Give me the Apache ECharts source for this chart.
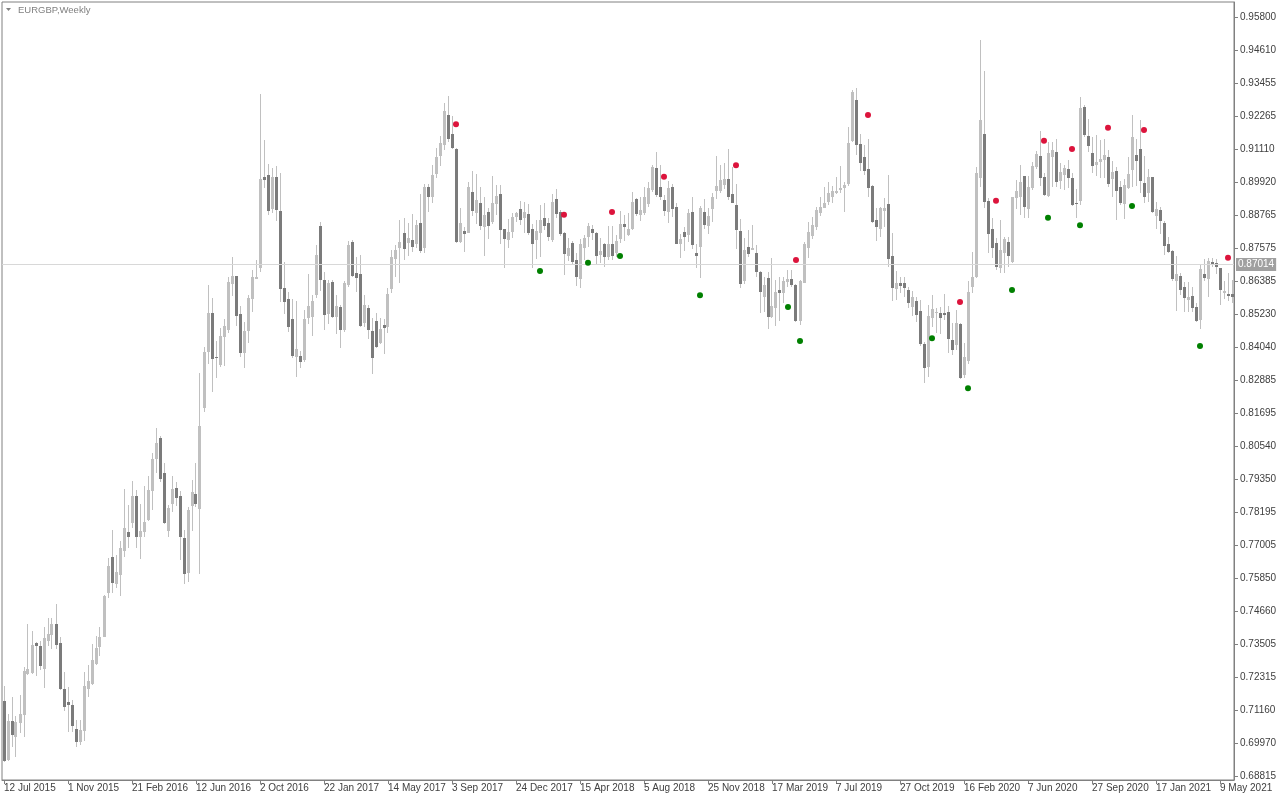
<!DOCTYPE html>
<html><head><meta charset="utf-8">
<script src="https://cdn.jsdelivr.net/npm/echarts@6/dist/echarts.min.js"></script>
<style>html,body{margin:0;padding:0;background:#fff}#c{width:1280px;height:800px}</style>
</head><body><div id="c"></div><script>
const chartTitle = 'EURGBP,Weekly';
const firstWeekUTC = Date.UTC(2015, 6, 12);
const xTickLabels = ['12 Jul 2015','1 Nov 2015','21 Feb 2016','12 Jun 2016','2 Oct 2016','22 Jan 2017','14 May 2017','3 Sep 2017','24 Dec 2017','15 Apr 2018','5 Aug 2018','25 Nov 2018','17 Mar 2019','7 Jul 2019','27 Oct 2019','16 Feb 2020','7 Jun 2020','27 Sep 2020','17 Jan 2021','9 May 2021'];
const yTickLabels = ['0.68815','0.69970','0.71160','0.72315','0.73505','0.74660','0.75850','0.77005','0.78195','0.79350','0.80540','0.81695','0.82885','0.84040','0.85230','0.86385','0.87575','0.88765','0.89920','0.91110','0.92265','0.93455','0.94610','0.95800'];
const lastPrice = 0.87014;

const opens = [
.7148,.6938,.7077,.7021,.7071,.7099,.7244,.7249,.7355,.7343,
.7263,.7362,.7384,.7423,.7355,.7191,.7144,.7134,.7048,.7002,
.7042,.7192,.7208,.7279,.7341,.7377,.7532,.7661,.7563,.7596,
.7681,.7750,.7782,.7877,.7730,.7750,.7791,.7896,.8008,.8084,
.7960,.7753,.7848,.7906,.7877,.7728,.7602,.7842,.7883,.7831,
.8191,.8390,.8528,.8371,.8342,.8443,.8467,.8630,.8659,.8524,
.8384,.8463,.8576,.8648,.8686,.9010,.9020,.8897,.9011,.8890,
.8615,.8576,.8508,.8372,.8374,.8360,.8511,.8514,.8591,.8837,
.8645,.8523,.8639,.8514,.8548,.8467,.8627,.8779,.8671,.8666,
.8493,.8544,.8463,.8499,.8420,.8485,.8479,.8612,.8719,.8760,
.8811,.8777,.8787,.8773,.8846,.8760,.8974,.8939,.9021,.9087,
.9125,.9231,.9164,.9110,.8781,.8819,.8813,.8959,.8882,.8919,
.8834,.8887,.8852,.8915,.8950,.8826,.8787,.8816,.8870,.8897,
.8866,.8879,.8826,.8787,.8813,.8866,.8848,.8787,.8933,.8887,
.8811,.8730,.8775,.8716,.8648,.8760,.8799,.8826,.8811,.8734,
.8773,.8725,.8773,.8740,.8789,.8844,.8805,.8828,.8933,.8876,
.8882,.8915,.8965,.9042,.8976,.8929,.8888,.8974,.8905,.8773,
.8814,.8805,.8887,.8742,.8763,.8887,.8837,.8897,.8962,.8962,
.8982,.9003,.8950,.8912,.8820,.8642,.8761,.8751,.8740,.8672,
.8586,.8651,.8514,.8544,.8609,.8599,.8639,.8648,.8627,.8500,
.8635,.8757,.8801,.8834,.8884,.8902,.8923,.8941,.8956,.8965,
.8971,.8986,.9140,.9285,.9127,.9083,.9038,.8979,.8858,.8826,
.8890,.8915,.8730,.8613,.8636,.8636,.8609,.8550,.8570,.8534,
.8417,.8336,.8511,.8528,.8528,.8528,.8532,.8431,.8414,.8488,
.8307,.8358,.8619,.8656,.9006,.9164,.8925,.8826,.8775,.8686,
.8742,.8781,.8710,.8935,.8941,.9014,.8896,.8973,.9047,.9085,
.9010,.8943,.9083,.9100,.8998,.9020,.9039,.9008,.8919,.8925,
.9261,.9158,.9097,.9053,.9065,.9071,.9083,.9003,.9033,.8976,
.8915,.8973,.9036,.9089,.9111,.8989,.8955,.9010,.8872,.8894,
.8848,.8773,.8749,.8641,.8659,.8621,.8574,.8588,.8550,.8502,
.8666,.8648,.8710,.8707,.8686,.8600,.8595,.8595];

const highs = [
.7201,.7102,.7162,.7095,.7169,.7269,.7422,.7397,.7359,.7362,
.7412,.7443,.7442,.7493,.7374,.7251,.7197,.7152,.7080,.7080,
.7251,.7276,.7351,.7379,.7410,.7525,.7656,.7756,.7667,.7717,
.7901,.7845,.7930,.7898,.7848,.7912,.7948,.8029,.8120,.8090,
.7995,.7845,.7948,.7928,.7896,.7756,.7837,.7934,.7995,.8315,
.8407,.8627,.8580,.8429,.8476,.8505,.8656,.8727,.8660,.8553,
.8496,.8591,.8680,.8716,.9305,.9142,.9057,.9042,.9050,.9024,
.8708,.8603,.8577,.8570,.8393,.8538,.8665,.8591,.8769,.8852,
.8674,.8645,.8645,.8591,.8556,.8642,.8784,.8787,.8727,.8734,
.8591,.8556,.8511,.8528,.8509,.8506,.8615,.8752,.8769,.8858,
.8864,.8846,.8879,.8860,.8949,.8988,.8986,.9053,.9116,.9157,
.9274,.9299,.9228,.9114,.8900,.8834,.8994,.9033,.9021,.8974,
.8939,.8900,.9014,.8982,.8982,.8828,.8861,.8884,.8887,.8925,
.8923,.8915,.8844,.8860,.8911,.8917,.8864,.8949,.8968,.8894,
.8816,.8793,.8784,.8740,.8789,.8805,.8846,.8840,.8816,.8796,
.8777,.8837,.8837,.8805,.8890,.8876,.8882,.8959,.8935,.8941,
.8974,.8994,.9053,.9101,.9053,.8947,.8998,.8986,.8917,.8808,
.8832,.8897,.8941,.8773,.8908,.8932,.8900,.8955,.9087,.9053,
.9060,.9109,.9047,.8986,.8862,.8793,.8822,.8840,.8769,.8677,
.8654,.8674,.8722,.8645,.8656,.8654,.8680,.8680,.8629,.8645,
.8781,.8852,.8870,.8905,.8941,.8974,.8994,.8979,.9012,.9050,
.8994,.9190,.9320,.9326,.9163,.9125,.9148,.8982,.8900,.8905,
.8935,.9018,.8811,.8677,.8654,.8656,.8621,.8607,.8585,.8574,
.8425,.8556,.8591,.8544,.8548,.8595,.8552,.8491,.8538,.8493,
.8420,.8642,.8745,.9047,.9498,.9389,.8935,.8864,.8793,.8860,
.8799,.8799,.8941,.9000,.9053,.9014,.9014,.9065,.9103,.9174,
.9026,.9136,.9136,.9148,.9060,.9053,.9071,.9024,.8967,.9294,
.9267,.9219,.9152,.9160,.9142,.9148,.9107,.9069,.9045,.8998,
.9003,.9083,.9231,.9148,.9214,.9086,.9038,.9012,.8923,.8905,
.8855,.8799,.8751,.8731,.8671,.8639,.8639,.8621,.8562,.8702,
.8719,.8722,.8722,.8719,.8686,.8642,.8671,.8645];

const lows = [
.6931,.6936,.6984,.6950,.7034,.7021,.7240,.7244,.7238,.7258,
.7193,.7343,.7332,.7332,.7187,.7113,.7039,.7039,.6983,.6991,
.7006,.7163,.7204,.7276,.7308,.7374,.7514,.7531,.7549,.7522,
.7661,.7693,.7764,.7691,.7652,.7730,.7789,.7827,.7957,.7925,
.7777,.7732,.7821,.7841,.7649,.7563,.7570,.7752,.7839,.7598,
.8176,.8348,.8248,.8297,.8336,.8339,.8456,.8589,.8482,.8372,
.8331,.8420,.8532,.8648,.8674,.8971,.8876,.8882,.8854,.8567,
.8523,.8459,.8368,.8301,.8331,.8352,.8487,.8447,.8580,.8606,
.8467,.8487,.8509,.8453,.8402,.8461,.8621,.8654,.8603,.8479,
.8479,.8434,.8310,.8402,.8417,.8382,.8455,.8600,.8654,.8635,
.8716,.8731,.8745,.8757,.8742,.8740,.8888,.8919,.9006,.9050,
.9107,.9136,.9109,.8775,.8777,.8745,.8811,.8872,.8844,.8822,
.8731,.8789,.8844,.8876,.8773,.8688,.8757,.8796,.8852,.8840,
.8811,.8805,.8686,.8718,.8727,.8822,.8784,.8781,.8864,.8801,
.8662,.8713,.8698,.8623,.8617,.8716,.8763,.8787,.8698,.8704,
.8692,.8716,.8716,.8725,.8777,.8784,.8801,.8822,.8872,.8855,
.8876,.8903,.8959,.8941,.8929,.8872,.8846,.8870,.8773,.8722,
.8749,.8781,.8754,.8688,.8653,.8825,.8808,.8850,.8932,.8955,
.8967,.8929,.8917,.8754,.8615,.8630,.8726,.8751,.8657,.8529,
.8532,.8470,.8509,.8481,.8500,.8564,.8619,.8621,.8496,.8485,
.8633,.8722,.8789,.8822,.8872,.8900,.8911,.8919,.8950,.8953,
.8887,.8979,.9135,.9089,.9033,.9018,.8941,.8849,.8784,.8799,
.8834,.8692,.8571,.8574,.8597,.8583,.8544,.8517,.8496,.8410,
.8277,.8301,.8479,.8455,.8453,.8502,.8384,.8378,.8396,.8292,
.8295,.8348,.8597,.8651,.8976,.8900,.8740,.8722,.8680,.8671,
.8669,.8690,.8704,.8896,.8876,.8864,.8864,.8965,.9038,.8979,
.8943,.8941,.8974,.8976,.8967,.8965,.8971,.8908,.8864,.8911,
.9154,.9101,.9024,.9014,.9006,.9006,.8976,.8941,.8858,.8911,
.8861,.8967,.8976,.8979,.8953,.8917,.8923,.8882,.8828,.8808,
.8734,.8740,.8642,.8536,.8591,.8532,.8532,.8532,.8496,.8469,
.8641,.8585,.8692,.8668,.8556,.8576,.8571,.8562];

const closes = [
.6936,.7077,.7027,.7073,.7102,.7256,.7262,.7347,.7344,.7272,
.7372,.7386,.7423,.7347,.7192,.7127,.7134,.7059,.7002,.7045,
.7201,.7220,.7294,.7336,.7375,.7521,.7628,.7566,.7608,.7693,
.7764,.7732,.7877,.7732,.7752,.7785,.7898,.8008,.8066,.7937,
.7782,.7835,.7902,.7871,.7730,.7598,.7827,.7890,.7847,.8126,
.8390,.8528,.8363,.8369,.8446,.8481,.8639,.8659,.8518,.8386,
.8463,.8580,.8656,.8656,.9004,.9001,.8891,.9011,.8894,.8613,
.8567,.8479,.8375,.8398,.8352,.8506,.8552,.8570,.8734,.8645,
.8520,.8635,.8514,.8552,.8467,.8635,.8769,.8659,.8653,.8481,
.8556,.8467,.8368,.8407,.8470,.8475,.8595,.8726,.8752,.8779,
.8755,.8796,.8763,.8840,.8749,.8974,.8941,.9018,.9083,.9133,
.9245,.9146,.9115,.8781,.8846,.8808,.8974,.8890,.8929,.8837,
.8876,.8837,.8917,.8943,.8822,.8790,.8814,.8870,.8882,.8858,
.8887,.8813,.8773,.8820,.8858,.8837,.8799,.8923,.8879,.8808,
.8737,.8757,.8710,.8654,.8773,.8793,.8837,.8813,.8730,.8748,
.8725,.8773,.8730,.8784,.8844,.8834,.8826,.8923,.8879,.8894,
.8941,.8973,.9047,.8947,.8939,.8890,.8971,.8897,.8773,.8790,
.8799,.8884,.8769,.8730,.8900,.8840,.8872,.8939,.8979,.9000,
.9003,.8941,.8920,.8822,.8630,.8751,.8737,.8760,.8674,.8603,
.8627,.8514,.8552,.8603,.8599,.8641,.8648,.8627,.8500,.8641,
.8772,.8816,.8840,.8894,.8905,.8919,.8955,.8961,.8961,.8973,
.8982,.9131,.9312,.9125,.9062,.9033,.8971,.8852,.8834,.8900,
.8902,.8719,.8617,.8633,.8623,.8617,.8564,.8583,.8520,.8416,
.8333,.8517,.8542,.8531,.8511,.8520,.8434,.8396,.8491,.8297,
.8372,.8603,.8654,.9027,.9213,.8923,.8807,.8757,.8692,.8751,
.8790,.8731,.8941,.8961,.8994,.8905,.8974,.9050,.9093,.9006,
.8947,.9095,.9107,.8994,.9030,.9044,.9006,.8911,.8915,.9255,
.9160,.9121,.9050,.9065,.9075,.9089,.8985,.9030,.8961,.8917,
.8982,.9021,.9154,.9068,.8998,.8941,.9010,.8888,.8896,.8855,
.8765,.8745,.8648,.8666,.8609,.8582,.8585,.8546,.8500,.8684,
.8651,.8712,.8698,.8692,.8609,.8606,.8589,.8585];

const redDotIndex = [113,140,152,165,183,198,216,239,248,260,267,276,285,306];
const redDotPrice = [.9199,.8877,.8887,.9012,.9053,.8716,.9232,.8567,.8927,.9140,.9111,.9186,.9178,.8724];
const greenDotIndex = [134,146,154,174,196,199,232,241,252,261,269,282,299];
const greenDotPrice = [.8677,.8706,.8730,.8591,.8549,.8428,.8438,.8260,.8609,.8866,.8840,.8908,.8410];

const MONTHS = ['Jan','Feb','Mar','Apr','May','Jun','Jul','Aug','Sep','Oct','Nov','Dec'];
const categories = opens.map((_, i) => {
  const d = new Date(firstWeekUTC + i * 7 * 86400000);
  return d.getUTCDate() + ' ' + MONTHS[d.getUTCMonth()] + ' ' + d.getUTCFullYear();
});

const candleData = opens.map((o, i) => [i, o, closes[i], lows[i], highs[i]]);
const redDots = redDotIndex.map((k, i) => [k, redDotPrice[i]]);
const greenDots = greenDotIndex.map((k, i) => [k, greenDotPrice[i]]);

const FONT = 'Liberation Sans, Arial, sans-serif';
const UP = '#c0c0c0', DOWN = '#7b7b7b', WICK = '#c0c0c0', AXIS = '#808080';
// price scale: 0.95800 at 17px, 0.68815 at 776px; plot frame spans 2..780
const pxPerPrice = (776 - 17) / (0.958 - 0.68815);
const yMax = 0.958 + 15 / pxPerPrice;
const yMin = 0.68815 - 4 / pxPerPrice;

function renderCandle(params, api) {
  const i = api.value(0);
  const o = api.value(1), c = api.value(2);
  const pO = api.coord([i, o]), pC = api.coord([i, c]);
  const pL = api.coord([i, api.value(3)]), pH = api.coord([i, api.value(4)]);
  const cx = Math.floor(pO[0]);
  const top = Math.round(Math.min(pO[1], pC[1]));
  const bot = Math.round(Math.max(pO[1], pC[1]));
  const wt = Math.round(pH[1]), wb = Math.round(pL[1]);
  return {
    type: 'group',
    children: [
      {type: 'rect', shape: {x: cx, y: wt, width: 1, height: Math.max(1, wb - wt)}, style: {fill: WICK}},
      {type: 'rect', shape: {x: cx - 1, y: top, width: 3, height: Math.max(1, bot - top)}, style: {fill: c >= o ? UP : DOWN}}
    ]
  };
}

const chart = echarts.init(document.getElementById('c'), null, {renderer: 'canvas'});
chart.setOption({
  animation: false,
  backgroundColor: '#ffffff',
  graphic: [
    {type: 'polygon', shape: {points: [[6, 8], [11, 8], [8.5, 11]]}, style: {fill: '#808080'}},
    {type: 'text', left: 18, top: 5, style: {text: chartTitle, fill: '#808080', font: '9.5px ' + FONT}}
  ],
  grid: [
    {left: 2, right: 46, top: 2, bottom: 20, show: true, borderColor: AXIS, borderWidth: 1, backgroundColor: 'transparent'},
    {left: 2, right: 46, top: 17, bottom: 24, show: false}
  ],
  xAxis: [
    {type: 'category', gridIndex: 0, data: categories, boundaryGap: true,
     axisLine: {show: true, lineStyle: {color: AXIS, width: 1}},
     axisTick: {show: true, interval: 15, alignWithLabel: true, length: 4, lineStyle: {color: AXIS}},
     axisLabel: {interval: 15, align: 'left', margin: 3, color: '#404040', fontSize: 10, fontFamily: FONT,
       formatter: (v, i) => (i % 16 === 0 ? (xTickLabels[i / 16] || '') : '')},
     splitLine: {show: false}},
    {type: 'value', gridIndex: 1, show: false, min: 0, max: 1}
  ],
  yAxis: [
    {type: 'value', gridIndex: 0, position: 'right', min: yMin, max: yMax, scale: true,
     axisLine: {show: true, onZero: false, lineStyle: {color: AXIS}}, axisTick: {show: false},
     axisLabel: {show: false}, splitLine: {show: false}},
    {type: 'value', gridIndex: 1, position: 'right', min: 0, max: yTickLabels.length - 1, interval: 1,
     axisLine: {show: false, onZero: false}, axisTick: {show: true, length: 4, lineStyle: {color: AXIS}},
     axisLabel: {margin: 6, color: '#404040', fontSize: 10, fontFamily: FONT,
       formatter: v => (Number.isInteger(v) ? yTickLabels[v] : '')},
     splitLine: {show: false}}
  ],
  series: [
    {type: 'line', name: 'last price', xAxisIndex: 0, yAxisIndex: 0, data: [], silent: true,
     markLine: {silent: true, symbol: ['none', 'none'], animation: false,
       lineStyle: {color: '#d8d8d8', width: 1, type: 'solid'},
       label: {show: true, position: 'end', distance: 2, formatter: () => lastPrice.toFixed(5),
         color: '#ffffff', backgroundColor: '#a0a0a0', padding: [2, 2, 1, 2], fontSize: 10, fontFamily: FONT},
       data: [{yAxis: lastPrice}]}},
    {type: 'custom', name: 'EURGBP', xAxisIndex: 0, yAxisIndex: 0, data: candleData,
     encode: {x: 0, y: [1, 2, 3, 4]}, renderItem: renderCandle, z: 3},
    {type: 'scatter', name: 'up fractal', xAxisIndex: 0, yAxisIndex: 0, data: redDots, symbol: 'circle', symbolSize: 6,
     itemStyle: {color: '#dc143c', opacity: 1}, z: 5},
    {type: 'scatter', name: 'down fractal', xAxisIndex: 0, yAxisIndex: 0, data: greenDots, symbol: 'circle', symbolSize: 6,
     itemStyle: {color: '#008000', opacity: 1}, z: 5}
  ]
});
</script></body></html>
